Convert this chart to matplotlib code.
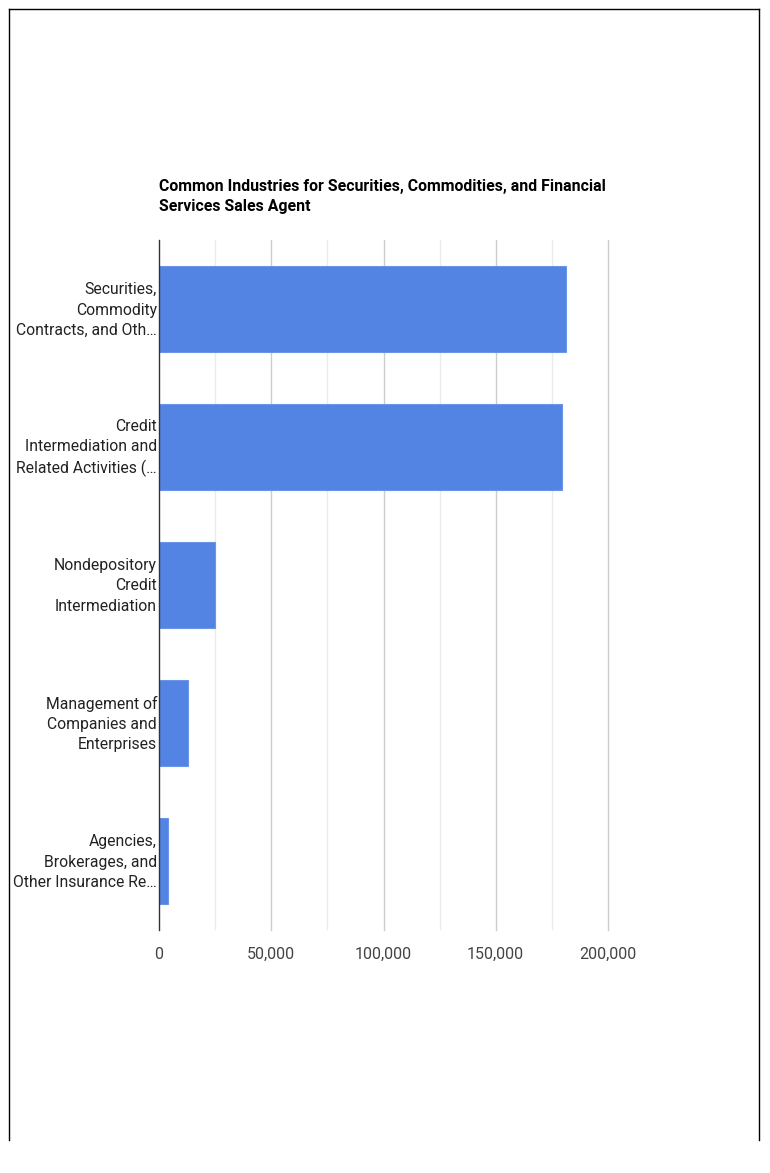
import matplotlib.pyplot as plt
import matplotlib.transforms as mtransforms
from matplotlib.lines import Line2D
from matplotlib.ticker import MultipleLocator, FuncFormatter

plt.rcParams['font.family'] = ['Roboto', 'DejaVu Sans']

categories = [
    "Securities,\nCommodity\nContracts, and Oth\u2026",
    "Credit\nIntermediation and\nRelated Activities (\u2026",
    "Nondepository\nCredit\nIntermediation",
    "Management of\nCompanies and\nEnterprises",
    "Agencies,\nBrokerages, and\nOther Insurance Re\u2026",
]
values = [181500, 179300, 24900, 12900, 4000]
xticks = [0, 50000, 100000, 150000, 200000]

title = "Common Industries for Securities, Commodities, and Financial\nServices Sales Agent"

fig = plt.figure(figsize=(7.7, 11.73), dpi=100)
ax = fig.add_axes([159 / 770, 1 - 930 / 1173, 449 / 770, 690 / 1173])

ypos = list(range(len(categories)))
ax.barh(ypos, values, height=0.62, color="#5384e3", edgecolor="#6b96e8",
        linewidth=0.8, zorder=3)
ax.set_ylim(len(categories) - 0.5, -0.5)
ax.set_xlim(0, 200000)

# category labels drawn as text so they can be placed finely
ax.set_yticks([])
lab_tr = mtransforms.offset_copy(ax.get_yaxis_transform(), fig=fig, x=-2, y=-1, units="dots")
for y, name in zip(ypos, categories):
    ax.text(0, y, name, transform=lab_tr, ha="right", va="center",
            fontsize=11.3, color="#222222", linespacing=1.45)

ax.set_xticks(xticks)
ax.xaxis.set_minor_locator(MultipleLocator(25000))
ax.xaxis.set_major_formatter(FuncFormatter(lambda v, p: f"{int(v):,}"))
ax.tick_params(axis="x", labelsize=11.5, colors="#444444", length=0, pad=12)
ax.tick_params(axis="x", which="minor", length=0)

ax.grid(axis="x", which="minor", color="#ebebeb", linewidth=1, zorder=0)
for t in xticks[1:]:
    ax.axvline(t, color="#cccccc", linewidth=1, zorder=1, clip_on=False)
for s in ["top", "right", "bottom"]:
    ax.spines[s].set_visible(False)
ax.spines["left"].set_color("#333333")
ax.spines["left"].set_linewidth(1)
ax.spines["left"].set_zorder(4)

fig.text(159 / 770, 1 - 179 / 1173, title, fontsize=11.4, fontweight="bold",
         color="#000000", ha="left", va="top", linespacing=1.4)

# frame around the chart
W, H = 770, 1173
fx = lambda x: x / W
fy = lambda y: 1 - y / H
fig.add_artist(Line2D([fx(8.5), fx(759)], [fy(8.5), fy(8.5)], color="black", lw=1))
fig.add_artist(Line2D([fx(8.5), fx(8.5)], [fy(8.5), fy(1140)], color="black", lw=1))
fig.add_artist(Line2D([fx(759), fx(759)], [fy(8.5), fy(1140)], color="black", lw=1))

fig.savefig("out.png", dpi=100)
